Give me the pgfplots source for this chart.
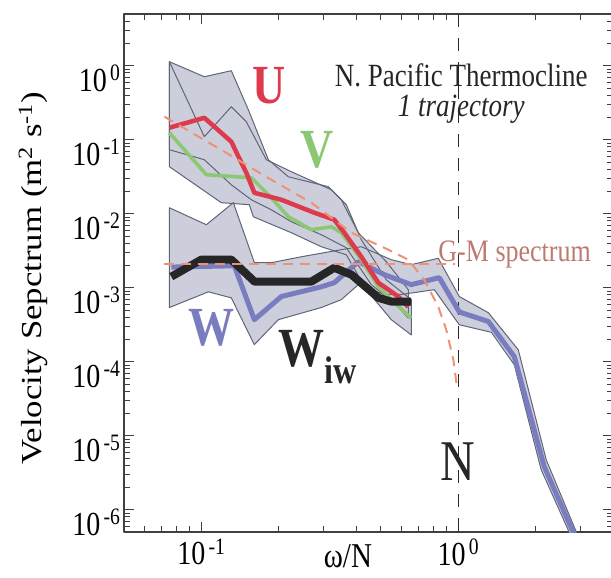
\documentclass[border=0pt]{standalone}
\usepackage{fontspec}
\setmainfont{Liberation Serif}
\usepackage{graphicx}
\usepackage{pgfplots}
\pgfplotsset{compat=1.18}

\definecolor{bandfill}{RGB}{204,207,219}
\definecolor{bandline}{RGB}{95,101,118}
\definecolor{ucol}{RGB}{222,58,78}
\definecolor{vcol}{RGB}{140,200,115}
\definecolor{wcol}{RGB}{122,124,192}
\definecolor{gmcol}{RGB}{238,145,118}
\definecolor{gmtext}{RGB}{188,122,112}

% text in the original figure is stretched vertically
\newcommand{\vs}[1]{\scalebox{1}[1.2]{#1}}

\begin{document}
\begin{tikzpicture}
\begin{axis}[
  scale only axis,
  width=489pt, height=518pt,
  xmode=log, ymode=log,
  xmin=0.05, xmax=4, ymin=5e-7, ymax=5,
  xtick={0.1,1},
  xticklabels={\vs{10\textsuperscript{\,-1}},\vs{10\textsuperscript{\,0}}},
  ytick={1e-6,1e-5,1e-4,1e-3,1e-2,1e-1,1},
  yticklabels={\vs{10\textsuperscript{\,-6}},\vs{10\textsuperscript{\,-5}},\vs{10\textsuperscript{\,-4}},\vs{10\textsuperscript{\,-3}},\vs{10\textsuperscript{\,-2}},\vs{10\textsuperscript{\,-1}},\vs{10\textsuperscript{\,0}}},
  minor xtick={0.06,0.07,0.08,0.09,0.2,0.3,0.4,0.5,0.6,0.7,0.8,0.9,2,3},
  minor ytick={6e-7,7e-7,8e-7,9e-7,
    2e-6,3e-6,4e-6,5e-6,6e-6,7e-6,8e-6,9e-6,
    2e-5,3e-5,4e-5,5e-5,6e-5,7e-5,8e-5,9e-5,
    2e-4,3e-4,4e-4,5e-4,6e-4,7e-4,8e-4,9e-4,
    2e-3,3e-3,4e-3,5e-3,6e-3,7e-3,8e-3,9e-3,
    0.02,0.03,0.04,0.05,0.06,0.07,0.08,0.09,
    0.2,0.3,0.4,0.5,0.6,0.7,0.8,0.9,2,3,4},
  tick align=inside,
  major tick length=10pt, minor tick length=6pt,
  every tick/.style={line width=1pt, black!75},
  axis line style={line width=1.4pt, black!75},
  tick label style={font=\fontsize{28}{32}\selectfont},
  yticklabel style={yshift=-13pt},
  xticklabel style={yshift=-3pt},
  label style={font=\fontsize{29}{33}\selectfont},
  xlabel={\vs{ω/N}},
  ylabel={\scalebox{1.2}[1]{Velocity Sepctrum (m\textsuperscript{2} s\textsuperscript{-1})}},
  xlabel style={at={(axis description cs:0.458,-0.046)}, anchor=center, inner sep=0pt},
  ylabel style={at={(axis description cs:-0.186,0.49)}, anchor=center},
  line join=round,
]
\coordinate (sw) at (rel axis cs:0,0);

% confidence bands: fills
\addplot[fill=bandfill, draw=none, forget plot] coordinates {
  (0.0751,1.133) (0.1027,0.1098) (0.1308,0.279) (0.1496,0.175) (0.179,0.0537)
  (0.2239,0.037) (0.3205,0.0211) (0.3666,0.01324) (0.4194,0.00445) (0.5246,0.00128)
  (0.6563,0.00069)
  (0.6563,0.00023) (0.5486,0.00037) (0.4386,0.00094) (0.3666,0.00279) (0.2931,0.00358)
  (0.2239,0.00554) (0.1594,0.0091) (0.1537,0.01324) (0.1196,0.0141) (0.0751,0.0432)
} -- cycle;
\addplot[fill=bandfill, draw=none, forget plot] coordinates {
  (0.0751,1.133) (0.1027,0.71) (0.1308,0.856) (0.1524,0.254) (0.1823,0.0537)
  (0.218,0.0316) (0.3121,0.0232) (0.3505,0.01546) (0.4082,0.00554) (0.5246,0.00225)
  (0.6389,0.00094)
  (0.6389,0.00039) (0.5737,0.00059) (0.4587,0.0011) (0.3666,0.00347) (0.2931,0.0052)
  (0.2239,0.0078) (0.1873,0.0113) (0.1565,0.01546) (0.1308,0.0246) (0.1027,0.0537)
  (0.0751,0.0733)
} -- cycle;
\addplot[fill=bandfill, draw=none, forget plot] coordinates {
  (0.0751,0.01205) (0.1046,0.0071) (0.1332,0.0141) (0.1608,0.00218) (0.1873,0.00218)
  (0.2449,0.00262) (0.3505,0.00327) (0.4194,0.00358) (0.5486,0.00239) (0.6563,0.00205)
  (0.8357,0.0025) (1.009,0.00076) (1.309,0.00046) (1.712,0.000145) (2.2,4.7e-6)
  (2.88,5e-7) (3.0,3e-7)
  (2.75,3e-7) (2.70,5e-7) (2.10,3.5e-6) (1.652,9.1e-5) (1.345,0.00025) (1.009,0.000316)
  (0.8065,0.00094) (0.6,0.00081) (0.5153,0.00081) (0.4082,0.0011) (0.3505,0.00069)
  (0.2931,0.00054) (0.1994,0.00037) (0.1608,0.00017) (0.1308,0.00073) (0.1065,0.00088)
  (0.0751,0.00054)
} -- cycle;

% confidence bands: outlines
\addplot[draw=bandline, line width=1pt, forget plot] coordinates {
  (0.0751,1.133) (0.1027,0.1098) (0.1308,0.279) (0.1496,0.175) (0.179,0.0537)
  (0.2239,0.037) (0.3205,0.0211) (0.3666,0.01324) (0.4194,0.00445) (0.5246,0.00128)
  (0.6563,0.00069)
  (0.6563,0.00023) (0.5486,0.00037) (0.4386,0.00094) (0.3666,0.00279) (0.2931,0.00358)
  (0.2239,0.00554) (0.1594,0.0091) (0.1537,0.01324) (0.1196,0.0141) (0.0751,0.0432)
} -- cycle;
\addplot[draw=bandline, line width=1pt, forget plot] coordinates {
  (0.0751,1.133) (0.1027,0.71) (0.1308,0.856) (0.1524,0.254) (0.1823,0.0537)
  (0.218,0.0316) (0.3121,0.0232) (0.3505,0.01546) (0.4082,0.00554) (0.5246,0.00225)
  (0.6389,0.00094)
  (0.6389,0.00039) (0.5737,0.00059) (0.4587,0.0011) (0.3666,0.00347) (0.2931,0.0052)
  (0.2239,0.0078) (0.1873,0.0113) (0.1565,0.01546) (0.1308,0.0246) (0.1027,0.0537)
  (0.0751,0.0733)
} -- cycle;
\addplot[draw=bandline, line width=1pt, forget plot] coordinates {
  (0.0751,0.01205) (0.1046,0.0071) (0.1332,0.0141) (0.1608,0.00218) (0.1873,0.00218)
  (0.2449,0.00262) (0.3505,0.00327) (0.4194,0.00358) (0.5486,0.00239) (0.6563,0.00205)
  (0.8357,0.0025) (1.009,0.00076) (1.309,0.00046) (1.712,0.000145) (2.2,4.7e-6)
  (2.88,5e-7) (3.0,3e-7)
  (2.75,3e-7) (2.70,5e-7) (2.10,3.5e-6) (1.652,9.1e-5) (1.345,0.00025) (1.009,0.000316)
  (0.8065,0.00094) (0.6,0.00081) (0.5153,0.00081) (0.4082,0.0011) (0.3505,0.00069)
  (0.2931,0.00054) (0.1994,0.00037) (0.1608,0.00017) (0.1308,0.00073) (0.1065,0.00088)
  (0.0751,0.00054)
} -- cycle;

% N (buoyancy frequency)
\addplot[black!85, line width=1.5pt, dash pattern=on 13pt off 11pt, forget plot]
  coordinates {(1,5) (1,5e-7)};

% W
\addplot[wcol, line width=5pt] coordinates {
  (0.0764,0.0019) (0.1344,0.00198) (0.1608,0.00037) (0.2047,0.00076) (0.2931,0.00103)
  (0.3292,0.00117) (0.4082,0.00225) (0.5153,0.0015) (0.6563,0.0011) (0.843,0.00137)
  (1.009,0.00047) (1.309,0.00035) (1.652,0.000117) (2.161,3.8e-6) (2.80,5e-7) (2.9,3e-7)
};
% V
\addplot[vcol, line width=3.6pt] coordinates {
  (0.0751,0.1243) (0.1046,0.0337) (0.1565,0.0306) (0.1873,0.01645) (0.218,0.0091)
  (0.2679,0.00608) (0.3205,0.00667) (0.3505,0.00554) (0.4194,0.00239) (0.4884,0.00103)
  (0.5636,0.00063) (0.6563,0.00039)
};
% U
\addplot[ucol, line width=4.5pt] coordinates {
  (0.0751,0.1453) (0.1027,0.198) (0.1308,0.094) (0.1496,0.0358) (0.1608,0.0192)
  (0.2047,0.01546) (0.2753,0.01032) (0.3292,0.0083) (0.3601,0.00554) (0.4194,0.00262)
  (0.4884,0.00117) (0.584,0.00076) (0.6389,0.00055)
};
% W_iw
\addplot[black!85, line width=8pt] coordinates {
  (0.0764,0.00141) (0.1,0.0024) (0.1308,0.0024) (0.161,0.00121) (0.268,0.00121)
  (0.329,0.00186) (0.384,0.0015) (0.489,0.00073) (0.548,0.00065) (0.656,0.00065)
};

% Garrett-Munk spectra
\addplot[gmcol, line width=2pt, dash pattern=on 10pt off 7pt] coordinates {
  (0.0718,0.205) (0.1229,0.0689) (0.187,0.0288) (0.268,0.0141) (0.384,0.00553)
  (0.534,0.00327) (0.639,0.00239) (0.737,0.00128) (0.836,0.000553) (0.898,0.00027)
  (0.957,0.000106) (0.991,4.2e-5)
};
\addplot[gmcol, line width=2pt, dash pattern=on 10pt off 7pt] coordinates {
  (0.0718,0.00211) (0.97,0.00211)
};

% annotations
\node[text=ucol, font=\fontsize{46}{50}\selectfont\bfseries] at (axis cs:0.184,0.537) {\vs{U}};
\node[text=vcol, font=\fontsize{46}{50}\selectfont\bfseries] at (axis cs:0.2827,0.0733) {\vs{V}};
\node[text=wcol, font=\fontsize{46}{50}\selectfont\bfseries] at (axis cs:0.1094,2.88e-4) {\vs{W}};
\node[text=black!85, font=\fontsize{46}{50}\selectfont\bfseries, anchor=base west, inner sep=0pt]
  at (axis cs:0.1994,8.55e-5) {\vs{W\textsubscript{iw}}};
\node[text=black!85, font=\fontsize{48}{52}\selectfont] at (axis cs:1,4.45e-6) {\vs{N}};
\node[text=black!85, font=\fontsize{27}{30}\selectfont, anchor=base, inner sep=0pt]
  at (axis cs:1.027,0.53) {\vs{N. Pacific Thermocline}};
\node[text=black!85, font=\fontsize{27}{30}\selectfont\itshape, anchor=base, inner sep=0pt]
  at (axis cs:1.027,0.205) {\vs{1 trajectory}};
\node[text=gmtext, font=\fontsize{26}{30}\selectfont, anchor=base west, inner sep=0pt, fill=white, fill opacity=0, text opacity=1]
  at (axis cs:0.8357,0.00225) {\vs{G-M spectrum}};
\end{axis}
\pgfresetboundingbox
\path[use as bounding box] ([shift={(-124pt,-46pt)}]sw) rectangle ([shift={(487pt,532pt)}]sw);
\end{tikzpicture}
\end{document}
